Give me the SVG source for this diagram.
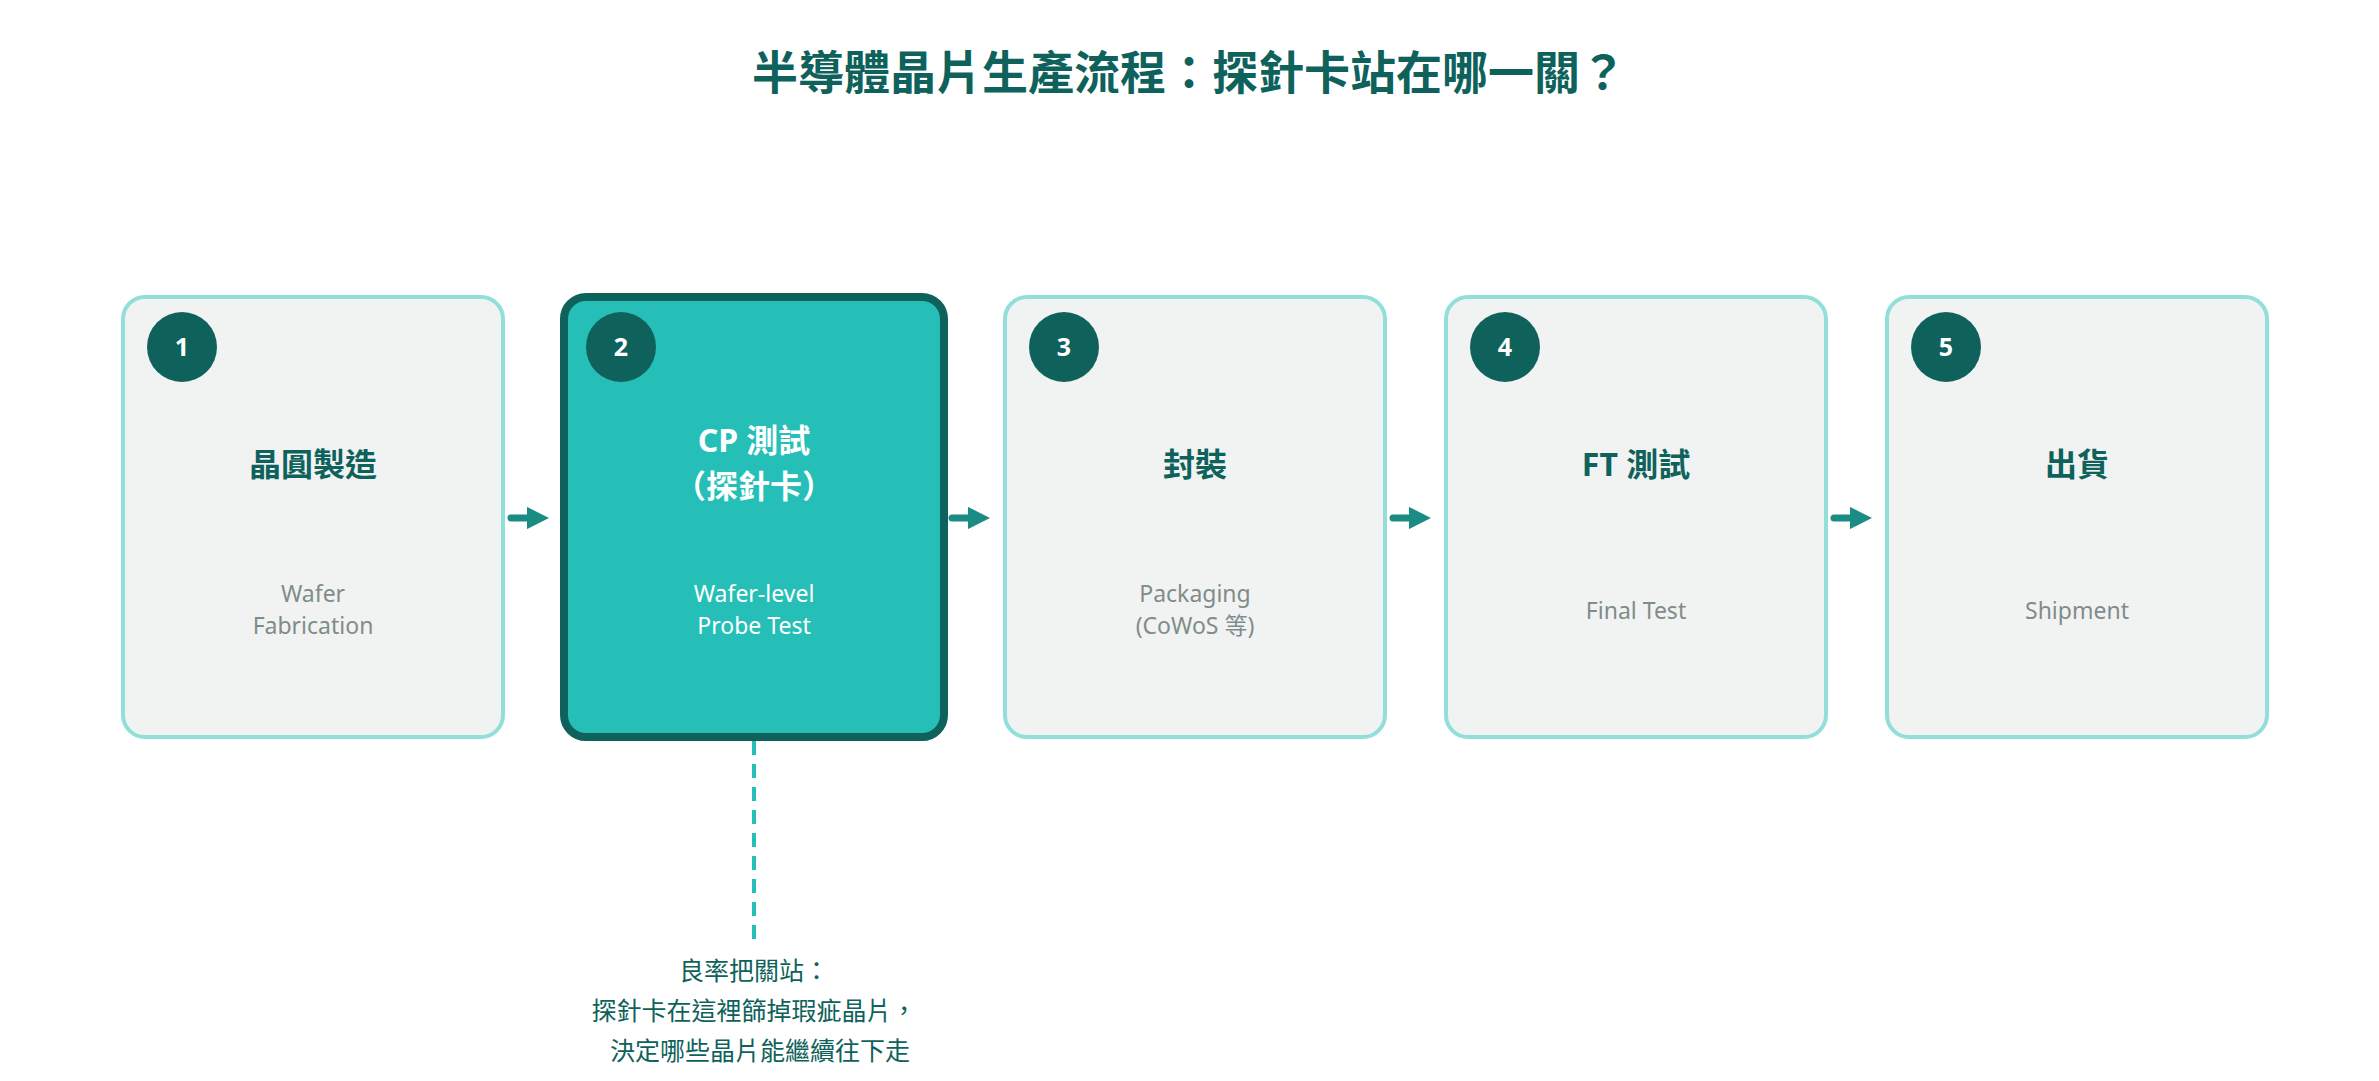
<svg xmlns="http://www.w3.org/2000/svg" width="2379" height="1081" viewBox="0 0 2379 1081">
<defs>
<style>
text{font-family:"Noto Sans","Noto Sans CJK TC",sans-serif;text-anchor:middle}
.box{fill:#f1f3f2;stroke:#92dfda;stroke-width:4}
.hl{fill:#26bfb8;stroke:#0e625b;stroke-width:8}
.num{fill:#0e625b}
.numt{fill:#fff;font-size:25px;font-weight:700}
.t{fill:#0e625b;font-size:32px;font-weight:700}
.s{fill:#7f8c8a;font-size:23px}
.arr{stroke:#1b8c84;stroke-width:7;stroke-linecap:round;fill:none}
</style>
<marker id="ah" viewBox="0 0 10 10" refX="5" refY="5" markerWidth="3.2" markerHeight="3.2" orient="auto" markerUnits="strokeWidth"><path d="M0,0 L10,5 L0,10 z" fill="#1b8c84"/></marker>
</defs>
<rect width="2379" height="1081" fill="#fff"/>
<text x="1189" y="89" style="font-size:46px;font-weight:700;fill:#0e625b">半導體晶片生產流程：探針卡站在哪一關？</text>
<g id="n1"><rect class="box" x="123" y="297" width="380" height="440" rx="22"/><circle class="num" cx="182" cy="347" r="35"/><text class="numt" x="182" y="356">1</text><text class="t" x="313" y="476">晶圓製造</text><text class="s" x="313" y="602">Wafer</text><text class="s" x="313" y="634">Fabrication</text></g>
<g id="n2"><rect class="hl" x="564" y="297" width="380" height="440" rx="22"/><circle class="num" cx="621" cy="347" r="35"/><text class="numt" x="621" y="356">2</text><text class="t" x="754" y="452" fill="#fff" style="fill:#fff">CP 測試</text><text class="t" x="754" y="498" style="fill:#fff">（探針卡）</text><text class="s" x="754" y="602" style="fill:#fff">Wafer-level</text><text class="s" x="754" y="634" style="fill:#fff">Probe Test</text></g>
<g id="n3"><rect class="box" x="1005" y="297" width="380" height="440" rx="22"/><circle class="num" cx="1064" cy="347" r="35"/><text class="numt" x="1064" y="356">3</text><text class="t" x="1195" y="476">封裝</text><text class="s" x="1195" y="602">Packaging</text><text class="s" x="1195" y="634">(CoWoS 等)</text></g>
<g id="n4"><rect class="box" x="1446" y="297" width="380" height="440" rx="22"/><circle class="num" cx="1505" cy="347" r="35"/><text class="numt" x="1505" y="356">4</text><text class="t" x="1636" y="476">FT 測試</text><text class="s" x="1636" y="619">Final Test</text></g>
<g id="n5"><rect class="box" x="1887" y="297" width="380" height="440" rx="22"/><circle class="num" cx="1946" cy="347" r="35"/><text class="numt" x="1946" y="356">5</text><text class="t" x="2077" y="476">出貨</text><text class="s" x="2077" y="619">Shipment</text></g>
<g id="connectors">
<line class="arr" x1="511" y1="518" x2="538" y2="518" marker-end="url(#ah)"/>
<line class="arr" x1="952" y1="518" x2="979" y2="518" marker-end="url(#ah)"/>
<line class="arr" x1="1393" y1="518" x2="1420" y2="518" marker-end="url(#ah)"/>
<line class="arr" x1="1834" y1="518" x2="1861" y2="518" marker-end="url(#ah)"/>
<line x1="754" y1="741" x2="754" y2="946" stroke="#26bfb8" stroke-width="4" stroke-dasharray="14,9"/>
</g>
<g id="note" style="font-size:25px;fill:#0e625b">
<text x="754" y="980" fill="#0e625b">良率把關站：</text>
<text x="754" y="1020" fill="#0e625b">探針卡在這裡篩掉瑕疵晶片，</text>
<text x="760" y="1060" fill="#0e625b">決定哪些晶片能繼續往下走</text>
</g>
</svg>
